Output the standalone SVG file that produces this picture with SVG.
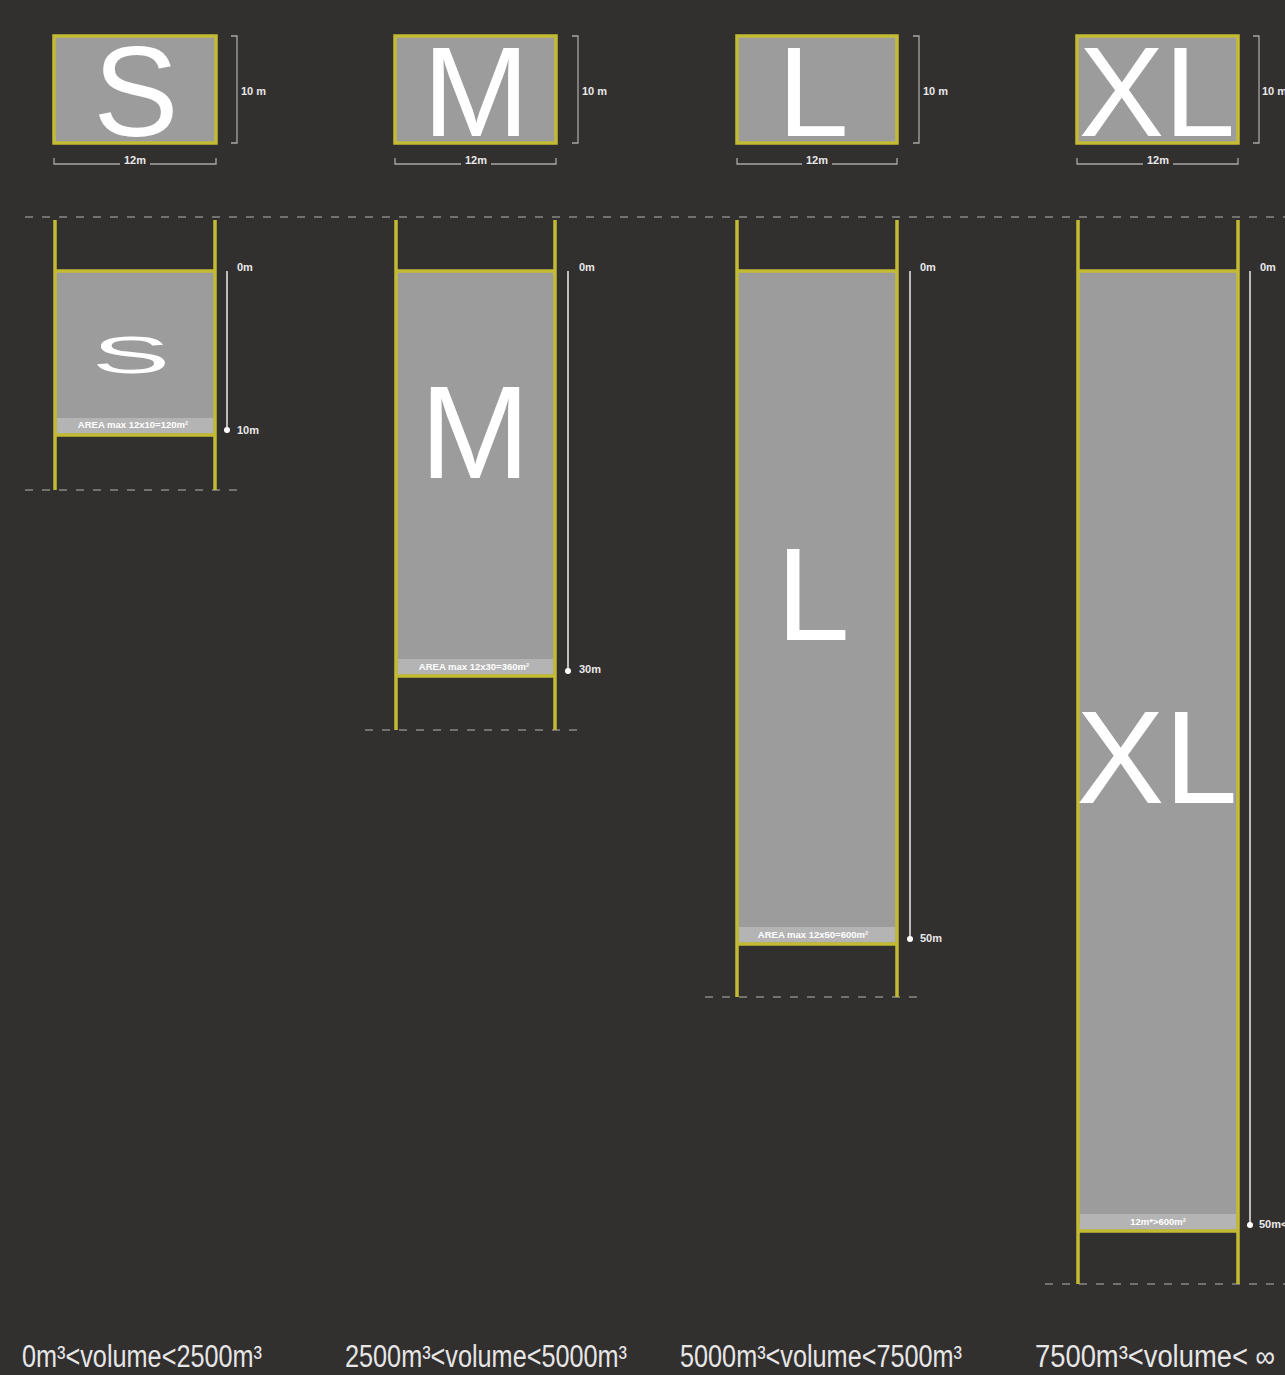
<svg xmlns="http://www.w3.org/2000/svg" width="1285" height="1375" viewBox="0 0 1285 1375">
<style>
.bg{fill:#322f2f}
.box{fill:#9c9c9c;stroke:#c4bb34;stroke-width:3.5}
.big{font-family:"Liberation Sans",Arial,sans-serif;fill:#ffffff;text-anchor:middle}
.post{stroke:#c4bb34;stroke-width:3.5;fill:none}
.fill{fill:#9c9c9c}
.dash{stroke:#8a8888;stroke-width:1.6;stroke-dasharray:8 9;fill:none}
.dim{stroke:#a8a6a6;stroke-width:1.3;fill:none}
.ruler{stroke:#bdbbbb;stroke-width:2;fill:none}
.sm{font-family:"Liberation Sans",Arial,sans-serif;fill:#e8e8e8;font-size:11px;font-weight:bold}
.area{font-family:"Liberation Sans",Arial,sans-serif;fill:#ffffff;font-size:9.5px;font-weight:bold;text-anchor:middle}
.vol{font-family:"Liberation Sans",Arial,sans-serif;fill:#e6e6e6;font-size:31px}
.dot{fill:#ffffff}
</style>
<rect class="bg" x="0" y="0" width="1285" height="1375"/>

<g id="connectors">
<line class="dash" x1="25" y1="217" x2="1285" y2="217"/>
<line class="dash" x1="25" y1="490" x2="245" y2="490"/>
<line class="dash" x1="365" y1="730" x2="585" y2="730"/>
<line class="dash" x1="705" y1="997" x2="925" y2="997"/>
<line class="dash" x1="1045" y1="1284" x2="1285" y2="1284"/>
</g>

<!-- Top boxes -->
<g id="top-S">
<rect class="box" x="54" y="36" width="162" height="107"/>
<text class="big" x="136" y="136" font-size="128">S</text>
<path class="dim" d="M231 36 L237 36 L237 143 L231 143"/>
<text class="sm" x="241" y="95">10 m</text>
<path class="dim" d="M54 158 L54 164 L120 164 M150 164 L216 164 L216 158"/>
<text class="sm" x="135" y="164" text-anchor="middle">12m</text>
</g>
<g id="top-M">
<rect class="box" x="395" y="36" width="161" height="107"/>
<text class="big" x="476" y="136" font-size="128">M</text>
<path class="dim" d="M572 36 L578 36 L578 143 L572 143"/>
<text class="sm" x="582" y="95">10 m</text>
<path class="dim" d="M395 158 L395 164 L461 164 M491 164 L556 164 L556 158"/>
<text class="sm" x="476" y="164" text-anchor="middle">12m</text>
</g>
<g id="top-L">
<rect class="box" x="737" y="36" width="160" height="107"/>
<text class="big" x="813" y="136" font-size="128">L</text>
<path class="dim" d="M913 36 L919 36 L919 143 L913 143"/>
<text class="sm" x="923" y="95">10 m</text>
<path class="dim" d="M737 158 L737 164 L802 164 M832 164 L897 164 L897 158"/>
<text class="sm" x="817" y="164" text-anchor="middle">12m</text>
</g>
<g id="top-XL">
<rect class="box" x="1077" y="36" width="161" height="107"/>
<text class="big" x="1157" y="136" font-size="128">XL</text>
<path class="dim" d="M1253 36 L1259 36 L1259 143 L1253 143"/>
<text class="sm" x="1262" y="95" font-size="9">10 m</text>
<path class="dim" d="M1077 158 L1077 164 L1143 164 M1173 164 L1238 164 L1238 158"/>
<text class="sm" x="1158" y="164" text-anchor="middle">12m</text>
</g>

<!-- Columns -->
<g id="col-S">
<rect class="fill" x="55" y="271" width="160" height="164"/>
<rect x="57" y="418" width="156" height="15" fill="#b4b4b4"/>
<line class="post" x1="55" y1="220" x2="55" y2="490"/>
<line class="post" x1="215" y1="220" x2="215" y2="490"/>
<line class="post" x1="55" y1="271" x2="215" y2="271"/>
<line class="post" x1="55" y1="435" x2="215" y2="435"/>
<text class="big" x="0" y="0" font-size="62" transform="translate(131 373) scale(1.9 0.85)">S</text>
<text class="area" x="133" y="428">AREA max 12x10=120m²</text>
<line class="ruler" x1="227" y1="271" x2="227" y2="430"/>
<circle class="dot" cx="227" cy="430" r="3"/>
<text class="sm" x="237" y="271">0m</text>
<text class="sm" x="237" y="434">10m</text>
</g>

<g id="col-M">
<rect class="fill" x="396" y="271" width="159" height="405"/>
<rect x="398" y="659" width="155" height="15" fill="#b4b4b4"/>
<line class="post" x1="396" y1="220" x2="396" y2="730"/>
<line class="post" x1="555" y1="220" x2="555" y2="730"/>
<line class="post" x1="396" y1="271" x2="555" y2="271"/>
<line class="post" x1="396" y1="676" x2="555" y2="676"/>
<text class="big" x="475" y="478" font-size="132">M</text>
<text class="area" x="474" y="670">AREA max 12x30=360m²</text>
<line class="ruler" x1="568" y1="271" x2="568" y2="670"/>
<circle class="dot" cx="568" cy="671" r="3"/>
<text class="sm" x="579" y="271">0m</text>
<text class="sm" x="579" y="673">30m</text>
</g>

<g id="col-L">
<rect class="fill" x="737" y="271" width="160" height="673"/>
<rect x="739" y="927" width="156" height="15" fill="#b4b4b4"/>
<line class="post" x1="737" y1="220" x2="737" y2="997"/>
<line class="post" x1="897" y1="220" x2="897" y2="997"/>
<line class="post" x1="737" y1="271" x2="897" y2="271"/>
<line class="post" x1="737" y1="944" x2="897" y2="944"/>
<text class="big" x="813" y="640" font-size="132">L</text>
<text class="area" x="813" y="938">AREA max 12x50=600m²</text>
<line class="ruler" x1="910" y1="271" x2="910" y2="938"/>
<circle class="dot" cx="910" cy="939" r="3"/>
<text class="sm" x="920" y="271">0m</text>
<text class="sm" x="920" y="942">50m</text>
</g>

<g id="col-XL">
<rect class="fill" x="1078" y="271" width="160" height="960"/>
<rect x="1080" y="1214" width="156" height="15" fill="#b4b4b4"/>
<line class="post" x1="1078" y1="220" x2="1078" y2="1284"/>
<line class="post" x1="1238" y1="220" x2="1238" y2="1284"/>
<line class="post" x1="1078" y1="271" x2="1238" y2="271"/>
<line class="post" x1="1078" y1="1231" x2="1238" y2="1231"/>
<text class="big" x="1157" y="803" font-size="132">XL</text>
<text class="area" x="1158" y="1225">12m*&gt;600m²</text>
<line class="ruler" x1="1250" y1="271" x2="1250" y2="1224"/>
<circle class="dot" cx="1250" cy="1225" r="3"/>
<text class="sm" x="1260" y="271">0m</text>
<text class="sm" x="1259" y="1228" font-size="10">50m&lt;</text>
</g>

<!-- Volume labels -->
<g id="labels">
<text class="vol" x="22" y="1367" textLength="240" lengthAdjust="spacingAndGlyphs">0m³&lt;volume&lt;2500m³</text>
<text class="vol" x="345" y="1367" textLength="282" lengthAdjust="spacingAndGlyphs">2500m³&lt;volume&lt;5000m³</text>
<text class="vol" x="680" y="1367" textLength="282" lengthAdjust="spacingAndGlyphs">5000m³&lt;volume&lt;7500m³</text>
<text class="vol" x="1035" y="1367" textLength="240" lengthAdjust="spacingAndGlyphs">7500m³&lt;volume&lt; ∞</text>
</g>
</svg>
